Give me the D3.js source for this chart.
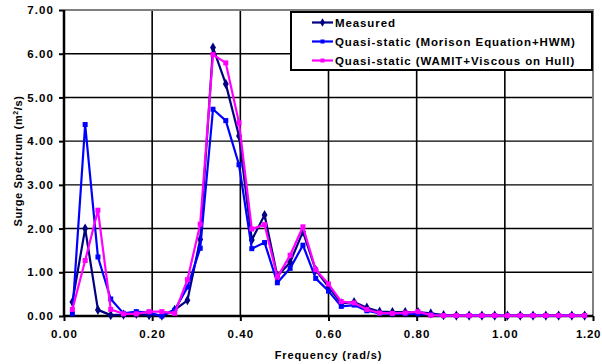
<!DOCTYPE html>
<html>
<head>
<meta charset="utf-8">
<script src="https://cdn.jsdelivr.net/npm/d3@7"></script>
<style>
  body { margin: 0; background: #fff; }
  text { font-family: "Liberation Sans", Arial, sans-serif; font-weight: bold; }
</style>
</head>
<body>
<div id="chart"></div>
<script>
// frequency (rad/s) of each spectral point
const freq = [0.019, 0.048, 0.077, 0.106, 0.135, 0.164, 0.193, 0.222, 0.251, 0.280,
  0.309, 0.338, 0.367, 0.397, 0.426, 0.455, 0.484, 0.513, 0.542, 0.571,
  0.600, 0.629, 0.658, 0.687, 0.716, 0.745, 0.774, 0.803, 0.832, 0.861,
  0.890, 0.919, 0.948, 0.977, 1.006, 1.035, 1.064, 1.093, 1.122, 1.152, 1.181];

const measured = [0.32, 2.00, 0.14, 0.02, 0.03, 0.05, 0.02, 0.01, 0.14, 0.36,
  1.75, 6.14, 5.31, 4.12, 1.74, 2.31, 0.91, 1.23, 1.93, 1.05,
  0.67, 0.29, 0.32, 0.19, 0.10, 0.09, 0.09, 0.09, 0.06, 0.02,
  0.01, 0.01, 0.01, 0.01, 0.01, 0.01, 0.01, 0.01, 0.01, 0.01, 0.01];

const morison = [0.05, 4.38, 1.35, 0.39, 0.06, 0.10, 0.08, 0.00, 0.13, 0.66,
  1.55, 4.73, 4.47, 3.46, 1.54, 1.68, 0.76, 1.09, 1.62, 0.86,
  0.57, 0.22, 0.25, 0.12, 0.06, 0.05, 0.05, 0.05, 0.03, 0.01,
  0.01, 0.01, 0.01, 0.01, 0.01, 0.01, 0.01, 0.01, 0.01, 0.01, 0.01];

const wamit = [0.15, 1.27, 2.42, 0.15, 0.05, 0.05, 0.10, 0.10, 0.06, 0.83,
  2.10, 5.98, 5.79, 4.42, 1.99, 2.09, 0.89, 1.39, 2.04, 1.06,
  0.73, 0.33, 0.30, 0.15, 0.07, 0.06, 0.07, 0.10, 0.02, 0.01,
  0.01, 0.01, 0.01, 0.01, 0.01, 0.01, 0.01, 0.01, 0.01, 0.01, 0.01];

const seriesNames = ["Measured", "Quasi-static (Morison Equation+HWM)", "Quasi-static (WAMIT+Viscous on Hull)"];
const seriesColors = ["#000080", "#0000FF", "#FF00FF"];
const xTicks = [0, 0.2, 0.4, 0.6, 0.8, 1.0, 1.2];
const yTicks = [0, 1, 2, 3, 4, 5, 6, 7];

const W = 602, H = 364;
const margin = { left: 64, right: 9, top: 10, bottom: 48 };

const svg = d3.select('#chart').append('svg')
  .attr('width', W).attr('height', H);

const x = d3.scaleLinear().domain([0, 1.2]).range([margin.left, W - margin.right]);
const y = d3.scaleLinear().domain([0, 7]).range([H - margin.bottom, margin.top]);

// gridlines
svg.append('g').selectAll('line.vg')
  .data(xTicks.filter(d => d > 0 && d < 1.2))
  .join('line')
  .attr('x1', d => x(d)).attr('x2', d => x(d))
  .attr('y1', y(0)).attr('y2', y(7))
  .attr('stroke', '#000').attr('stroke-width', 1.6);

svg.append('g').selectAll('line.hg')
  .data(yTicks.filter(d => d > 0 && d < 7))
  .join('line')
  .attr('x1', x(0)).attr('x2', x(1.2))
  .attr('y1', d => y(d)).attr('y2', d => y(d))
  .attr('stroke', '#000').attr('stroke-width', 1.4);

// gray frame top / right
svg.append('line')
  .attr('x1', x(0)).attr('x2', x(1.2) + 1)
  .attr('y1', y(7)).attr('y2', y(7))
  .attr('stroke', '#808080').attr('stroke-width', 2);
svg.append('line')
  .attr('x1', x(1.2)).attr('x2', x(1.2))
  .attr('y1', y(7)).attr('y2', y(0))
  .attr('stroke', '#808080').attr('stroke-width', 2);

// axes
const yAxis = d3.axisLeft(y).tickValues(yTicks).tickFormat(d3.format('.2f')).tickSize(5).tickPadding(5);
const xAxis = d3.axisBottom(x).tickValues(xTicks).tickFormat(d3.format('.2f')).tickSize(5).tickPadding(9);

const gy = svg.append('g').attr('transform', `translate(${x(0)},0)`).call(yAxis);
const gx = svg.append('g').attr('transform', `translate(0,${y(0)})`).call(xAxis);

[gx, gy].forEach(g => {
  g.select('.domain').attr('stroke', '#000').attr('stroke-width', 2.5);
  g.selectAll('.tick line').attr('stroke', '#000').attr('stroke-width', 2);
  g.selectAll('.tick text')
    .attr('fill', '#000')
    .style('font-size', '11.5px')
    .style('letter-spacing', '1.1px')
    .style('font-family', '"Liberation Sans", Arial, sans-serif')
    .style('font-weight', 'bold');
});
gy.select('.domain').attr('d', `M0,${y(0)}V${y(7)}`);
gx.select('.domain').attr('d', `M${x(0)},0H${x(1.2)}`);
// keep the last x label inside the picture
gx.selectAll('.tick text').filter(d => d === 1.2)
  .attr('dx', -5).style('letter-spacing', '0.6px');

// axis titles
svg.append('text')
  .attr('x', (x(0) + x(1.2)) / 2).attr('y', 359)
  .attr('text-anchor', 'middle')
  .style('font-size', '11px').style('letter-spacing', '0.9px')
  .text('Frequency (rad/s)');

const yt = svg.append('text')
  .attr('transform', `translate(22,${(y(0) + y(7)) / 2 - 2}) rotate(-90)`)
  .attr('text-anchor', 'middle')
  .style('font-size', '11px').style('letter-spacing', '0.6px');
yt.append('tspan').text('Surge Spectrum (m');
yt.append('tspan').attr('dy', -4).style('font-size', '7px').text('2');
yt.append('tspan').attr('dy', 4).text('/s)');

// series
const series = [measured, morison, wamit];
const line = d3.line().x((d, i) => x(freq[i])).y(d => y(d));

series.forEach((vals, s) => {
  const g = svg.append('g');
  g.append('path')
    .datum(vals)
    .attr('d', line)
    .attr('fill', 'none')
    .attr('stroke', seriesColors[s])
    .attr('stroke-width', 2.2)
    .attr('stroke-linejoin', 'round');
  if (s === 0) {
    g.selectAll('path.mk').data(vals).join('path')
      .attr('transform', (d, i) => `translate(${x(freq[i])},${y(d)})`)
      .attr('d', d3.symbol(d3.symbolDiamond, 30))
      .attr('fill', seriesColors[s]);
  } else {
    g.selectAll('rect').data(vals).join('rect')
      .attr('x', (d, i) => x(freq[i]) - 2.5)
      .attr('y', d => y(d) - 2.5)
      .attr('width', 5).attr('height', 5)
      .attr('fill', seriesColors[s]);
  }
});

// legend
const lg = svg.append('g');
lg.append('rect')
  .attr('x', 291).attr('y', 12).attr('width', 301).attr('height', 58)
  .attr('fill', '#fff').attr('stroke', '#000').attr('stroke-width', 2);

seriesNames.forEach((name, s) => {
  const cy = 22.5 + s * 19;
  lg.append('line')
    .attr('x1', 312).attr('x2', 333).attr('y1', cy).attr('y2', cy)
    .attr('stroke', seriesColors[s]).attr('stroke-width', 2.2);
  if (s === 0) {
    lg.append('path')
      .attr('transform', `translate(322.5,${cy})`)
      .attr('d', d3.symbol(d3.symbolDiamond, 22))
      .attr('fill', seriesColors[s]);
  } else {
    lg.append('rect')
      .attr('x', 320.5).attr('y', cy - 2).attr('width', 4).attr('height', 4)
      .attr('fill', seriesColors[s]);
  }
  lg.append('text')
    .attr('x', 335).attr('y', cy + 4)
    .style('font-size', '11.5px').style('letter-spacing', '0.9px')
    .text(name);
});
</script>
</body>
</html>
